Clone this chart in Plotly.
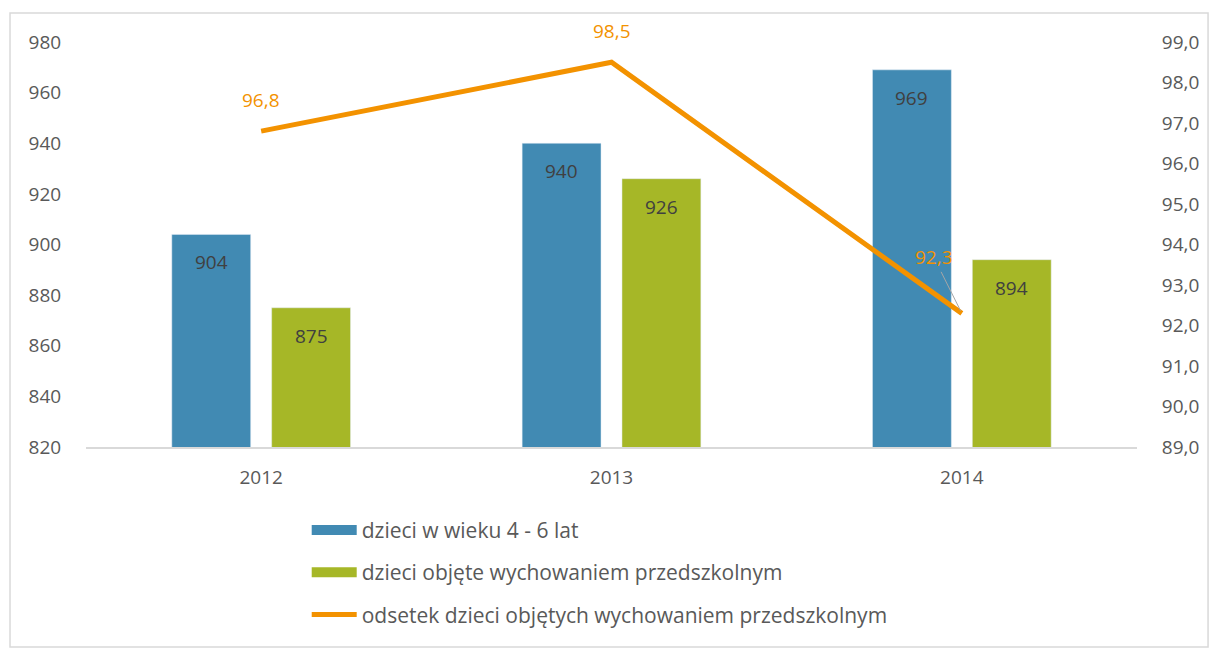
import plotly.graph_objects as go

years = ["2012", "2013", "2014"]
children_4_6 = [904, 940, 969]
children_preschool = [875, 926, 894]
share_pct = [96.8, 98.5, 92.3]
right_ticks = [89, 90, 91, 92, 93, 94, 95, 96, 97, 98, 99]

name_a = "dzieci w wieku 4 - 6 lat"
name_b = "dzieci objęte wychowaniem przedszkolnym"
name_c = "odsetek dzieci objętych wychowaniem przedszkolnym"

FONT = "'Open Sans', 'Noto Sans', sans-serif"
GREY = "#595959"
DARK = "#404040"
BLUE = "#418AB3"
GREEN = "#A6B727"
ORANGE = "#F39200"
CLEAR = "rgba(0,0,0,0)"
AX_SIZE = 19
LBL_SIZE = 19
LEG_SIZE = 21


def pl(v):
    return f"{v:.1f}".replace(".", ",")


fig = go.Figure()
fig.add_trace(go.Bar(x=years, y=children_4_6, name=name_a, marker_color=BLUE,
                     showlegend=False))
fig.add_trace(go.Bar(x=years, y=children_preschool, name=name_b, marker_color=GREEN,
                     showlegend=False))
fig.add_trace(go.Scatter(
    x=years, y=share_pct, name=name_c, mode="lines", yaxis="y2", legendgroup="c",
    line=dict(color=ORANGE, width=5), showlegend=True, legendrank=3,
))
# legend-only entries drawn as wide swatches for the bar series
fig.add_trace(go.Scatter(x=[None], y=[None], mode="lines", name=name_a, legendgroup="a",
                         line=dict(color=BLUE, width=12), legendrank=1))
fig.add_trace(go.Scatter(x=[None], y=[None], mode="lines", name=name_b, legendgroup="b",
                         line=dict(color=GREEN, width=12), legendrank=2))

# bar data labels (inside, near top)
for series, shift in ((children_4_6, -50), (children_preschool, 50)):
    for i, v in enumerate(series):
        fig.add_annotation(x=i, y=v, xref="x", yref="y", text=str(v), showarrow=False,
                           xshift=shift, yshift=-28,
                           font=dict(size=LBL_SIZE, color=DARK, family=FONT))

# line data labels
for i, v in enumerate(share_pct):
    if i < 2:
        fig.add_annotation(x=i, y=v, xref="x", yref="y2", text=pl(v), showarrow=False,
                           yshift=31, font=dict(size=LBL_SIZE, color=ORANGE, family=FONT))
    else:
        fig.add_annotation(x=i, y=v, xref="x", yref="y2", text=pl(v), showarrow=True,
                           arrowhead=0, arrowwidth=1, arrowcolor="#A6A6A6",
                           ax=-28, ay=-56, standoff=3,
                           font=dict(size=LBL_SIZE, color=ORANGE, family=FONT))

# outer chart border
fig.add_shape(type="rect", xref="paper", yref="paper",
              x0=-0.0723, x1=1.0676, y0=-0.494, y1=1.0716,
              line=dict(color="#D9D9D9", width=1.5), fillcolor=CLEAR, layer="below")

fig.update_layout(
    width=1209, height=648,
    margin=dict(l=86, r=72, t=42, b=201),
    paper_bgcolor="white", plot_bgcolor="white",
    font=dict(family=FONT, size=AX_SIZE, color=GREY),
    barmode="group", bargap=0.43, bargroupgap=0.21,
    showlegend=True,
    legend=dict(x=0.21, y=-0.155, xanchor="left", yanchor="top",
                orientation="v", traceorder="grouped", tracegroupgap=12,
                font=dict(size=LEG_SIZE, color=GREY, family=FONT), itemwidth=45,
                bgcolor=CLEAR),
    xaxis=dict(type="category", categoryorder="array", categoryarray=years,
               range=[-0.5, len(years) - 0.5], autorange=False,
               showgrid=False, showline=True, linecolor="#D9D9D9",
               linewidth=1.5, ticks="outside", ticklen=12, tickcolor=CLEAR,
               tickfont=dict(size=AX_SIZE, color=GREY), automargin=False),
    yaxis=dict(range=[820, 980], dtick=20, showgrid=False, zeroline=False,
               showline=False, ticks="outside", ticklen=20, tickcolor=CLEAR,
               tickfont=dict(size=AX_SIZE, color=GREY), automargin=False),
    yaxis2=dict(range=[89, 99], overlaying="y", side="right",
                tickmode="array", tickvals=right_ticks,
                ticktext=[pl(t) for t in right_ticks],
                showgrid=False, zeroline=False, showline=False,
                ticks="outside", ticklen=20, tickcolor=CLEAR,
                tickfont=dict(size=AX_SIZE, color=GREY), automargin=False),
)

fig.write_html("out.html", post_script="document.body.style.margin='0';",
               config={"displayModeBar": False})
